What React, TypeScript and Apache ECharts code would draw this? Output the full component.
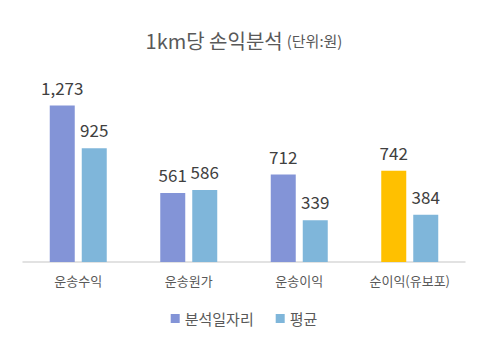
import React, { useEffect, useRef } from "react";
import * as echarts from "echarts";

const categories = ["운송수익", "운송원가", "운송이익", "순이익(유보포)"];
const seriesNames = ["분석일자리", "평균"];
const analysisValues = [1273, 561, 712, 742];
const averageValues = [925, 586, 339, 384];
const highlightIndex = 3;

const FONT = "'Noto Sans CJK KR', 'Noto Sans', sans-serif";

export default function App() {
  const ref = useRef<HTMLDivElement>(null);
  useEffect(() => {
    if (!ref.current) return;
    const chart = echarts.init(ref.current, undefined, { renderer: "svg" });
    const label = {
      show: true,
      position: "top" as const,
      distance: 10,
      fontSize: 17,
      fontWeight: "normal" as const,
      color: "#404040",
      fontFamily: FONT,
      formatter: (p: any) => Number(p.value).toLocaleString("en-US"),
    };
    chart.setOption({
      animation: false,
      textStyle: { fontFamily: FONT },
      title: {
        text: "{a|1km당 손익분석} {b|(단위:원)}",
        left: "center",
        top: 25,
        textStyle: {
          fontWeight: "normal",
          rich: {
            a: { fontSize: 20, color: "#595959", fontFamily: FONT, fontWeight: "normal" },
            b: { fontSize: 15, color: "#595959", fontFamily: FONT, fontWeight: "normal" },
          },
        },
      },
      legend: {
        data: seriesNames,
        bottom: 20,
        left: "center",
        icon: "rect",
        itemWidth: 9,
        itemHeight: 9,
        itemGap: 22,
        textStyle: { fontSize: 15, color: "#595959", fontFamily: FONT },
      },
      grid: { left: 23, right: 23, top: 90, bottom: 89, containLabel: false },
      xAxis: {
        type: "category",
        data: categories,
        axisLine: { lineStyle: { color: "#d9d9d9", width: 1.5 } },
        axisTick: { show: false },
        axisLabel: { fontSize: 13, color: "#595959", margin: 12, fontFamily: FONT },
      },
      yAxis: {
        type: "value",
        min: 0,
        max: 1400,
        show: false,
        splitLine: { show: false },
      },
      series: [
        {
          name: seriesNames[0],
          type: "bar",
          barWidth: 25,
          barGap: "28%",
          itemStyle: { color: "#8394D7" },
          label,
          data: analysisValues.map((v, i) =>
            i === highlightIndex ? { value: v, itemStyle: { color: "#FFC000" } } : v
          ),
        },
        {
          name: seriesNames[1],
          type: "bar",
          barWidth: 25,
          itemStyle: { color: "#7FB6DA" },
          label,
          data: averageValues,
        },
      ],
    });
    return () => chart.dispose();
  }, []);
  return (
    <div
      ref={ref}
      style={{ position: "absolute", left: 0, top: 0, width: 488, height: 351 }}
    />
  );
}
